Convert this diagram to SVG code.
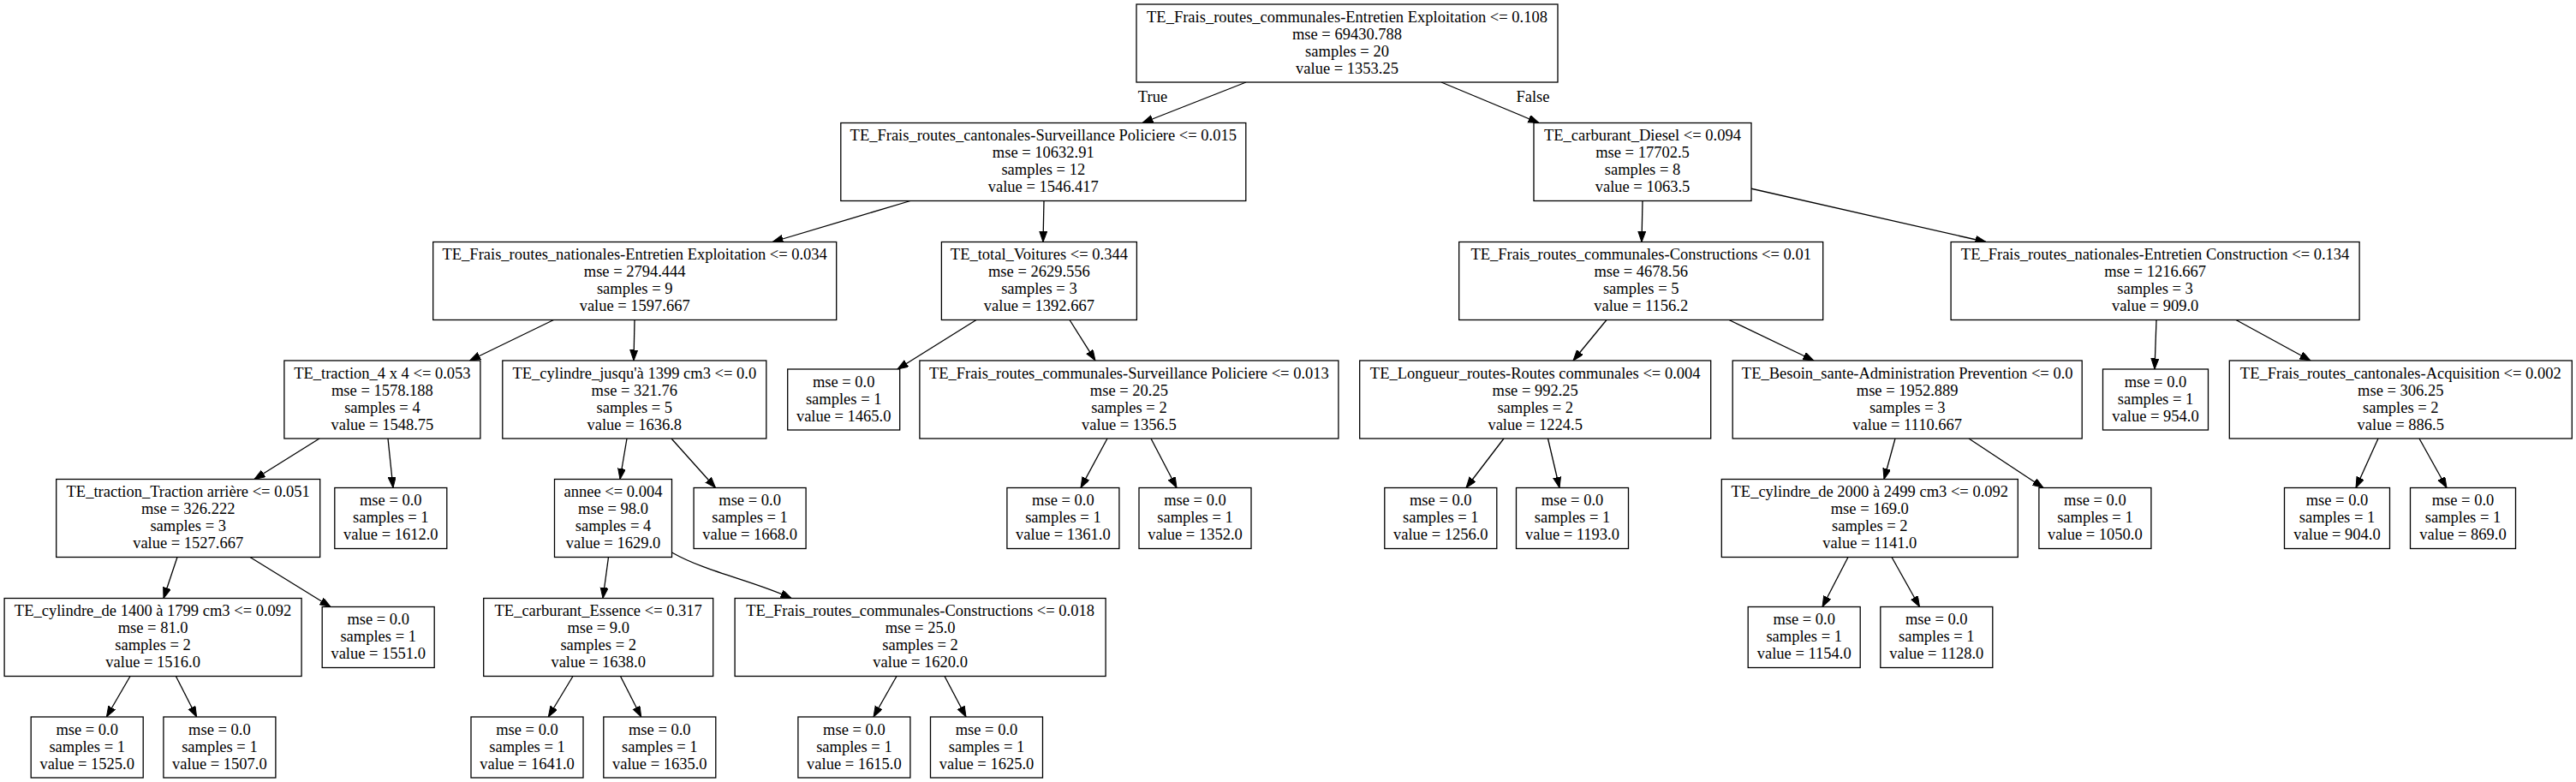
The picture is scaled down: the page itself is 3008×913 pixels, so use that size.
<svg xmlns="http://www.w3.org/2000/svg" width="3008" height="913" viewBox="0 0 3008 913">
<style>
.b{fill:#fff;stroke:#000;stroke-width:1.3}
text{font-family:"Liberation Serif","Times New Roman",serif;font-size:18.5px;fill:#000;text-anchor:middle}
.e{stroke:#000;stroke-width:1.3;fill:none;marker-end:url(#ah)}
</style>
<defs>
<marker id="ah" markerUnits="userSpaceOnUse" markerWidth="14" markerHeight="10" refX="12.5" refY="4.5" orient="auto">
<path d="M0,0 L12.5,4.5 L0,9 z" fill="#000" stroke="#000" stroke-width="1"/>
</marker>
</defs>
<rect width="3008" height="913" fill="#fff"/>
<g id="edges">
<line class="e" x1="1455" y1="96" x2="1334" y2="143.5"/>
<line class="e" x1="1683" y1="96" x2="1797" y2="143.5"/>
<line class="e" x1="1063" y1="234.5" x2="902" y2="282.5"/>
<line class="e" x1="1219" y1="234.5" x2="1218" y2="282.5"/>
<line class="e" x1="1918" y1="234.5" x2="1917" y2="282.5"/>
<line class="e" x1="2044" y1="220" x2="2319" y2="282.5"/>
<line class="e" x1="646.5" y1="373.5" x2="548.5" y2="421"/>
<line class="e" x1="741" y1="373.5" x2="740" y2="421"/>
<line class="e" x1="1140" y1="373.5" x2="1048" y2="431"/>
<line class="e" x1="1249" y1="373.5" x2="1279" y2="421"/>
<line class="e" x1="1876" y1="373.5" x2="1837" y2="421"/>
<line class="e" x1="2019" y1="373.5" x2="2118" y2="421"/>
<line class="e" x1="2518" y1="373.5" x2="2516" y2="431"/>
<line class="e" x1="2611" y1="373.5" x2="2698" y2="421"/>
<line class="e" x1="373" y1="512" x2="297" y2="559.5"/>
<line class="e" x1="453" y1="512" x2="459" y2="569.5"/>
<line class="e" x1="732" y1="512" x2="724" y2="559.5"/>
<line class="e" x1="784" y1="512" x2="835.5" y2="569.5"/>
<line class="e" x1="1293" y1="512" x2="1262" y2="569.5"/>
<line class="e" x1="1344" y1="512" x2="1374" y2="569.5"/>
<line class="e" x1="1756" y1="512" x2="1712" y2="569.5"/>
<line class="e" x1="1807.5" y1="512" x2="1821" y2="569.5"/>
<line class="e" x1="2213" y1="512" x2="2200" y2="559.5"/>
<line class="e" x1="2299" y1="512" x2="2386" y2="569.5"/>
<line class="e" x1="2777" y1="512" x2="2751" y2="569.5"/>
<line class="e" x1="2825" y1="512" x2="2857" y2="569.5"/>
<line class="e" x1="207" y1="650.5" x2="191" y2="698.5"/>
<line class="e" x1="292" y1="650.5" x2="386" y2="708.5"/>
<line class="e" x1="710.5" y1="650.5" x2="704" y2="698.5"/>
<path class="e" d="M784.5,645 C825,668 880,678 924,698.5"/>
<line class="e" x1="2158" y1="650.5" x2="2128" y2="708.5"/>
<line class="e" x1="2209" y1="650.5" x2="2241.5" y2="708.5"/>
<line class="e" x1="152" y1="789.5" x2="124.4" y2="837"/>
<line class="e" x1="205.4" y1="789.5" x2="229.6" y2="837"/>
<line class="e" x1="669" y1="789.5" x2="640.3" y2="837"/>
<line class="e" x1="724.5" y1="789.5" x2="748.7" y2="837"/>
<line class="e" x1="1047" y1="789.5" x2="1020" y2="837"/>
<line class="e" x1="1103" y1="789.5" x2="1128" y2="837"/>
<text x="1346" y="119">True</text>
<text x="1790" y="119">False</text>
</g>
<g id="n0"><rect class="b" x="1327" y="5" width="492" height="91"/><text x="1573" y="25.5">TE_Frais_routes_communales-Entretien Exploitation &lt;= 0.108</text><text x="1573" y="45.5">mse = 69430.788</text><text x="1573" y="65.5">samples = 20</text><text x="1573" y="85.5">value = 1353.25</text></g>
<g id="n1"><rect class="b" x="981.8" y="143.5" width="473" height="91"/><text x="1218.3" y="164">TE_Frais_routes_cantonales-Surveillance Policiere &lt;= 0.015</text><text x="1218.3" y="184">mse = 10632.91</text><text x="1218.3" y="204">samples = 12</text><text x="1218.3" y="224">value = 1546.417</text></g>
<g id="n2"><rect class="b" x="505.7" y="282.5" width="471" height="91"/><text x="741.2" y="303">TE_Frais_routes_nationales-Entretien Exploitation &lt;= 0.034</text><text x="741.2" y="323">mse = 2794.444</text><text x="741.2" y="343">samples = 9</text><text x="741.2" y="363">value = 1597.667</text></g>
<g id="n3"><rect class="b" x="331.9" y="421" width="229" height="91"/><text x="446.4" y="441.5">TE_traction_4 x 4 &lt;= 0.053</text><text x="446.4" y="461.5">mse = 1578.188</text><text x="446.4" y="481.5">samples = 4</text><text x="446.4" y="501.5">value = 1548.75</text></g>
<g id="n4"><rect class="b" x="65.7" y="559.5" width="308" height="91"/><text x="219.7" y="580">TE_traction_Traction arrière &lt;= 0.051</text><text x="219.7" y="600">mse = 326.222</text><text x="219.7" y="620">samples = 3</text><text x="219.7" y="640">value = 1527.667</text></g>
<g id="n5"><rect class="b" x="5.1" y="698.5" width="347" height="91"/><text x="178.6" y="719">TE_cylindre_de 1400 à 1799 cm3 &lt;= 0.092</text><text x="178.6" y="739">mse = 81.0</text><text x="178.6" y="759">samples = 2</text><text x="178.6" y="779">value = 1516.0</text></g>
<g id="n6"><rect class="b" x="36.2" y="837" width="131" height="71"/><text x="101.7" y="857.5">mse = 0.0</text><text x="101.7" y="877.5">samples = 1</text><text x="101.7" y="897.5">value = 1525.0</text></g>
<g id="n7"><rect class="b" x="190.9" y="837" width="131" height="71"/><text x="256.4" y="857.5">mse = 0.0</text><text x="256.4" y="877.5">samples = 1</text><text x="256.4" y="897.5">value = 1507.0</text></g>
<g id="n8"><rect class="b" x="376.2" y="708.5" width="131" height="71"/><text x="441.7" y="729">mse = 0.0</text><text x="441.7" y="749">samples = 1</text><text x="441.7" y="769">value = 1551.0</text></g>
<g id="n9"><rect class="b" x="390.8" y="569.5" width="131" height="71"/><text x="456.3" y="590">mse = 0.0</text><text x="456.3" y="610">samples = 1</text><text x="456.3" y="630">value = 1612.0</text></g>
<g id="n10"><rect class="b" x="586.8" y="421" width="308" height="91"/><text x="740.8" y="441.5">TE_cylindre_jusqu'à 1399 cm3 &lt;= 0.0</text><text x="740.8" y="461.5">mse = 321.76</text><text x="740.8" y="481.5">samples = 5</text><text x="740.8" y="501.5">value = 1636.8</text></g>
<g id="n11"><rect class="b" x="647.5" y="559.5" width="137" height="91"/><text x="716" y="580">annee &lt;= 0.004</text><text x="716" y="600">mse = 98.0</text><text x="716" y="620">samples = 4</text><text x="716" y="640">value = 1629.0</text></g>
<g id="n12"><rect class="b" x="564.7" y="698.5" width="268" height="91"/><text x="698.7" y="719">TE_carburant_Essence &lt;= 0.317</text><text x="698.7" y="739">mse = 9.0</text><text x="698.7" y="759">samples = 2</text><text x="698.7" y="779">value = 1638.0</text></g>
<g id="n13"><rect class="b" x="550" y="837" width="131" height="71"/><text x="615.5" y="857.5">mse = 0.0</text><text x="615.5" y="877.5">samples = 1</text><text x="615.5" y="897.5">value = 1641.0</text></g>
<g id="n14"><rect class="b" x="704.8" y="837" width="131" height="71"/><text x="770.3" y="857.5">mse = 0.0</text><text x="770.3" y="877.5">samples = 1</text><text x="770.3" y="897.5">value = 1635.0</text></g>
<g id="n15"><rect class="b" x="858.1" y="698.5" width="433" height="91"/><text x="1074.6" y="719">TE_Frais_routes_communales-Constructions &lt;= 0.018</text><text x="1074.6" y="739">mse = 25.0</text><text x="1074.6" y="759">samples = 2</text><text x="1074.6" y="779">value = 1620.0</text></g>
<g id="n16"><rect class="b" x="931.9" y="837" width="131" height="71"/><text x="997.4" y="857.5">mse = 0.0</text><text x="997.4" y="877.5">samples = 1</text><text x="997.4" y="897.5">value = 1615.0</text></g>
<g id="n17"><rect class="b" x="1086.5" y="837" width="131" height="71"/><text x="1152" y="857.5">mse = 0.0</text><text x="1152" y="877.5">samples = 1</text><text x="1152" y="897.5">value = 1625.0</text></g>
<g id="n18"><rect class="b" x="810.1" y="569.5" width="131" height="71"/><text x="875.6" y="590">mse = 0.0</text><text x="875.6" y="610">samples = 1</text><text x="875.6" y="630">value = 1668.0</text></g>
<g id="n19"><rect class="b" x="1099.4" y="282.5" width="228" height="91"/><text x="1213.4" y="303">TE_total_Voitures &lt;= 0.344</text><text x="1213.4" y="323">mse = 2629.556</text><text x="1213.4" y="343">samples = 3</text><text x="1213.4" y="363">value = 1392.667</text></g>
<g id="n20"><rect class="b" x="919.7" y="431" width="131" height="71"/><text x="985.2" y="451.5">mse = 0.0</text><text x="985.2" y="471.5">samples = 1</text><text x="985.2" y="491.5">value = 1465.0</text></g>
<g id="n21"><rect class="b" x="1073.9" y="421" width="489" height="91"/><text x="1318.4" y="441.5">TE_Frais_routes_communales-Surveillance Policiere &lt;= 0.013</text><text x="1318.4" y="461.5">mse = 20.25</text><text x="1318.4" y="481.5">samples = 2</text><text x="1318.4" y="501.5">value = 1356.5</text></g>
<g id="n22"><rect class="b" x="1175.9" y="569.5" width="131" height="71"/><text x="1241.4" y="590">mse = 0.0</text><text x="1241.4" y="610">samples = 1</text><text x="1241.4" y="630">value = 1361.0</text></g>
<g id="n23"><rect class="b" x="1330" y="569.5" width="131" height="71"/><text x="1395.5" y="590">mse = 0.0</text><text x="1395.5" y="610">samples = 1</text><text x="1395.5" y="630">value = 1352.0</text></g>
<g id="n24"><rect class="b" x="1791" y="143.5" width="254" height="91"/><text x="1918" y="164">TE_carburant_Diesel &lt;= 0.094</text><text x="1918" y="184">mse = 17702.5</text><text x="1918" y="204">samples = 8</text><text x="1918" y="224">value = 1063.5</text></g>
<g id="n25"><rect class="b" x="1703.7" y="282.5" width="425" height="91"/><text x="1916.2" y="303">TE_Frais_routes_communales-Constructions &lt;= 0.01</text><text x="1916.2" y="323">mse = 4678.56</text><text x="1916.2" y="343">samples = 5</text><text x="1916.2" y="363">value = 1156.2</text></g>
<g id="n26"><rect class="b" x="1587.7" y="421" width="410" height="91"/><text x="1792.7" y="441.5">TE_Longueur_routes-Routes communales &lt;= 0.004</text><text x="1792.7" y="461.5">mse = 992.25</text><text x="1792.7" y="481.5">samples = 2</text><text x="1792.7" y="501.5">value = 1224.5</text></g>
<g id="n27"><rect class="b" x="1616.8" y="569.5" width="131" height="71"/><text x="1682.3" y="590">mse = 0.0</text><text x="1682.3" y="610">samples = 1</text><text x="1682.3" y="630">value = 1256.0</text></g>
<g id="n28"><rect class="b" x="1770.5" y="569.5" width="131" height="71"/><text x="1836" y="590">mse = 0.0</text><text x="1836" y="610">samples = 1</text><text x="1836" y="630">value = 1193.0</text></g>
<g id="n29"><rect class="b" x="2023.2" y="421" width="408" height="91"/><text x="2227.2" y="441.5">TE_Besoin_sante-Administration Prevention &lt;= 0.0</text><text x="2227.2" y="461.5">mse = 1952.889</text><text x="2227.2" y="481.5">samples = 3</text><text x="2227.2" y="501.5">value = 1110.667</text></g>
<g id="n30"><rect class="b" x="2010.3" y="559.5" width="346" height="91"/><text x="2183.3" y="580">TE_cylindre_de 2000 à 2499 cm3 &lt;= 0.092</text><text x="2183.3" y="600">mse = 169.0</text><text x="2183.3" y="620">samples = 2</text><text x="2183.3" y="640">value = 1141.0</text></g>
<g id="n31"><rect class="b" x="2041.2" y="708.5" width="131" height="71"/><text x="2106.7" y="729">mse = 0.0</text><text x="2106.7" y="749">samples = 1</text><text x="2106.7" y="769">value = 1154.0</text></g>
<g id="n32"><rect class="b" x="2195.8" y="708.5" width="131" height="71"/><text x="2261.3" y="729">mse = 0.0</text><text x="2261.3" y="749">samples = 1</text><text x="2261.3" y="769">value = 1128.0</text></g>
<g id="n33"><rect class="b" x="2380.9" y="569.5" width="131" height="71"/><text x="2446.4" y="590">mse = 0.0</text><text x="2446.4" y="610">samples = 1</text><text x="2446.4" y="630">value = 1050.0</text></g>
<g id="n34"><rect class="b" x="2278.1" y="282.5" width="477" height="91"/><text x="2516.6" y="303">TE_Frais_routes_nationales-Entretien Construction &lt;= 0.134</text><text x="2516.6" y="323">mse = 1216.667</text><text x="2516.6" y="343">samples = 3</text><text x="2516.6" y="363">value = 909.0</text></g>
<g id="n35"><rect class="b" x="2455.5" y="431" width="123" height="71"/><text x="2517" y="451.5">mse = 0.0</text><text x="2517" y="471.5">samples = 1</text><text x="2517" y="491.5">value = 954.0</text></g>
<g id="n36"><rect class="b" x="2603.3" y="421" width="400" height="91"/><text x="2803.3" y="441.5">TE_Frais_routes_cantonales-Acquisition &lt;= 0.002</text><text x="2803.3" y="461.5">mse = 306.25</text><text x="2803.3" y="481.5">samples = 2</text><text x="2803.3" y="501.5">value = 886.5</text></g>
<g id="n37"><rect class="b" x="2667.5" y="569.5" width="123" height="71"/><text x="2729" y="590">mse = 0.0</text><text x="2729" y="610">samples = 1</text><text x="2729" y="630">value = 904.0</text></g>
<g id="n38"><rect class="b" x="2814.5" y="569.5" width="123" height="71"/><text x="2876" y="590">mse = 0.0</text><text x="2876" y="610">samples = 1</text><text x="2876" y="630">value = 869.0</text></g>
</svg>
